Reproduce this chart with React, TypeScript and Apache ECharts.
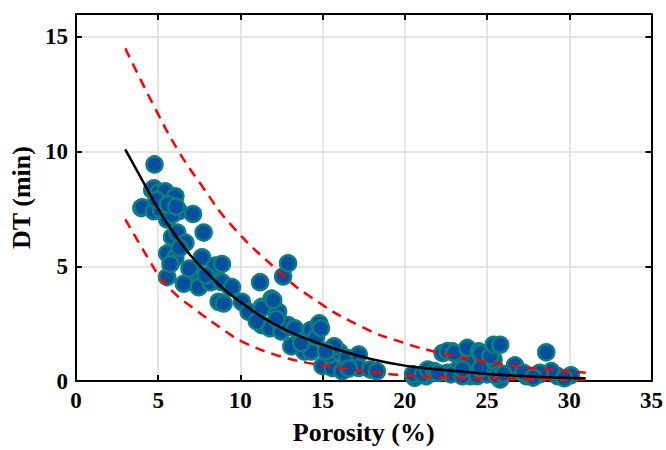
import React, { useEffect, useRef } from "react";
import * as echarts from "echarts";

const xTicks = [0, 5, 10, 15, 20, 25, 30, 35];
const yTicks = [0, 5, 10, 15];

const samplePoints: [number, number][] = [
  [4.78, 9.44], [4.64, 8.33], [4.74, 8.4], [5.0, 8.2], [5.35, 8.12], [5.43, 8.27], [6.05, 8.05],
  [3.98, 7.54], [4.04, 7.57], [4.74, 7.4], [5.15, 7.47], [6.26, 7.4], [7.12, 7.28], [5.55, 7.04],
  [5.85, 7.25], [4.9, 7.9], [5.6, 7.7], [6.1, 7.6],
  [7.77, 6.47], [5.85, 6.28], [6.16, 6.47], [6.66, 6.03], [5.55, 5.56], [6.05, 5.39], [7.67, 5.39],
  [8.47, 5.03], [8.88, 5.1], [5.55, 4.53], [5.75, 5.1], [7.07, 4.53], [6.56, 4.24], [7.47, 4.09],
  [8.38, 4.38], [9.38, 4.09], [7.17, 4.81], [8.17, 4.31], [8.88, 4.31], [9.49, 4.09], [6.3, 5.8],
  [6.9, 4.9], [7.9, 4.6],
  [8.68, 3.45], [8.98, 3.38], [10.09, 3.45], [10.5, 3.02], [11.2, 4.31], [11.3, 3.23], [11.9, 3.59],
  [12.3, 3.02], [11.3, 2.44], [11.8, 2.3], [12.6, 4.56], [12.9, 5.13], [11.3, 3.16], [12.0, 3.52],
  [12.5, 2.16], [12.9, 2.44], [13.7, 2.01], [14.3, 2.23], [14.8, 2.51], [13.1, 1.51], [13.9, 1.29],
  [14.3, 1.29], [13.7, 1.65], [11.0, 2.6], [12.2, 2.7], [13.3, 2.3], [14.6, 1.9],
  [15.0, 0.65], [15.6, 0.57], [15.4, 1.15], [16.0, 1.29], [16.5, 1.0], [17.2, 1.15], [17.2, 0.57],
  [17.9, 0.5], [16.2, 0.43], [15.7, 1.51], [14.9, 2.3], [15.2, 1.3], [16.6, 0.55], [18.3, 0.43],
  [20.6, 0.14], [21.3, 0.21], [20.5, 0.29], [21.1, 0.29], [21.4, 0.5], [21.8, 0.43], [22.6, 0.36],
  [23.2, 0.5], [24.0, 0.21], [24.8, 0.36], [25.6, 0.29], [22.8, 0.29], [23.5, 0.21], [24.4, 0.21],
  [25.0, 0.29], [25.8, 0.07], [26.6, 0.43], [27.4, 0.21], [28.2, 0.29], [29.3, 0.21], [30.1, 0.25],
  [28.9, 0.43], [26.7, 0.68], [27.2, 0.36], [28.2, 0.36], [25.4, 0.93], [25.6, 0.21], [23.8, 0.79],
  [22.0, 0.35], [26.0, 0.3], [27.8, 0.15], [29.7, 0.12], [23.5, 0.5], [24.6, 0.55],
  [22.3, 1.22], [22.9, 1.29], [22.6, 1.3], [23.0, 1.22], [23.8, 1.44], [24.5, 1.29], [24.6, 1.22],
  [25.2, 1.08], [25.4, 1.58], [25.8, 1.58], [28.6, 1.25],
];

const fitCurve: [number, number][] = [
  [3, 10.1], [4, 8.8], [5, 7.5], [6, 6.4], [7, 5.45], [8, 4.7], [9, 4.0], [10, 3.45],
  [12, 2.5], [14, 1.85], [16, 1.35], [18, 0.95], [20, 0.67], [22, 0.5], [25, 0.31],
  [28, 0.19], [31, 0.12],
];

const upperBound: [number, number][] = [
  [3, 14.5], [4.95, 11.7], [6.26, 10.0], [7.67, 8.5], [9.38, 6.85], [12.3, 4.8],
  [14.1, 3.75], [17.35, 2.37], [20, 1.65], [22, 1.25], [24, 0.95], [26, 0.72], [28, 0.55],
  [31, 0.36],
];

const lowerBound: [number, number][] = [
  [3, 7.05], [4.54, 5.17], [5.05, 4.6], [5.96, 3.85], [6.9, 3.3], [9.28, 2.08], [10.1, 1.72],
  [12.1, 1.15], [14.1, 0.79], [16.1, 0.57], [18, 0.39], [20, 0.25], [23, 0.14], [27, 0.09],
  [31, 0.05],
];

const FONT = "'Liberation Serif', 'Times New Roman', serif";

function tick() {
  return { show: true, inside: true, length: 6, lineStyle: { color: "#000", width: 2 } };
}
function line() {
  return { show: true, onZero: false, lineStyle: { color: "#000", width: 2 } };
}

export default function App() {
  const ref = useRef<HTMLDivElement>(null);
  useEffect(() => {
    if (!ref.current) return;
    const chart = echarts.init(ref.current, undefined, { renderer: "svg" });
    const labelStyle = {
      fontFamily: FONT,
      fontWeight: "bold" as const,
      fontSize: 23,
      color: "#000",
    };
    chart.setOption({
      animation: false,
      backgroundColor: "#fff",
      grid: { left: 73, right: 14, top: 14, bottom: 65 },
      xAxis: [
        {
          type: "value",
          min: xTicks[0],
          max: xTicks[xTicks.length - 1],
          interval: 5,
          position: "bottom",
          name: "Porosity (%)",
          nameLocation: "middle",
          nameGap: 38,
          nameTextStyle: { ...labelStyle, fontSize: 26 },
          axisLine: line(),
          axisTick: tick(),
          axisLabel: { ...labelStyle, margin: 8 },
          splitLine: { show: true, lineStyle: { color: "#dcdcdc", width: 1.5 } },
        },
        {
          type: "value",
          min: xTicks[0],
          max: xTicks[xTicks.length - 1],
          interval: 5,
          position: "top",
          axisLine: line(),
          axisTick: tick(),
          axisLabel: { show: false },
          splitLine: { show: false },
        },
      ],
      yAxis: [
        {
          type: "value",
          min: yTicks[0],
          max: 16,
          interval: 5,
          position: "left",
          name: "DT (min)",
          nameLocation: "middle",
          nameGap: 38,
          nameTextStyle: { ...labelStyle, fontSize: 26 },
          axisLine: line(),
          axisTick: tick(),
          axisLabel: {
            ...labelStyle,
            margin: 8,
            formatter: (v: number) => (yTicks.includes(v) ? String(v) : ""),
          },
          splitLine: { show: true, lineStyle: { color: "#dcdcdc", width: 1.5 } },
        },
        {
          type: "value",
          min: yTicks[0],
          max: 16,
          interval: 5,
          position: "right",
          axisLine: line(),
          axisTick: tick(),
          axisLabel: { show: false },
          splitLine: { show: false },
        },
      ],
      series: [
        {
          type: "scatter",
          data: samplePoints,
          symbolSize: 16,
          itemStyle: { color: "#054f9e", borderColor: "#0d7f80", borderWidth: 2.5, opacity: 1 },
          z: 2,
        },
        {
          type: "line",
          data: fitCurve,
          smooth: true,
          showSymbol: false,
          lineStyle: { color: "#000", width: 2.5 },
          z: 4,
        },
        {
          type: "line",
          data: upperBound,
          smooth: true,
          showSymbol: false,
          lineStyle: { color: "#ff0000", width: 2.5, type: [10, 7] },
          z: 3,
        },
        {
          type: "line",
          data: lowerBound,
          smooth: true,
          showSymbol: false,
          lineStyle: { color: "#ff0000", width: 2.5, type: [10, 7] },
          z: 3,
        },
      ],
    });
    return () => chart.dispose();
  }, []);
  return <div ref={ref} style={{ width: 666, height: 450, position: "absolute", left: 0, top: 0 }} />;
}
